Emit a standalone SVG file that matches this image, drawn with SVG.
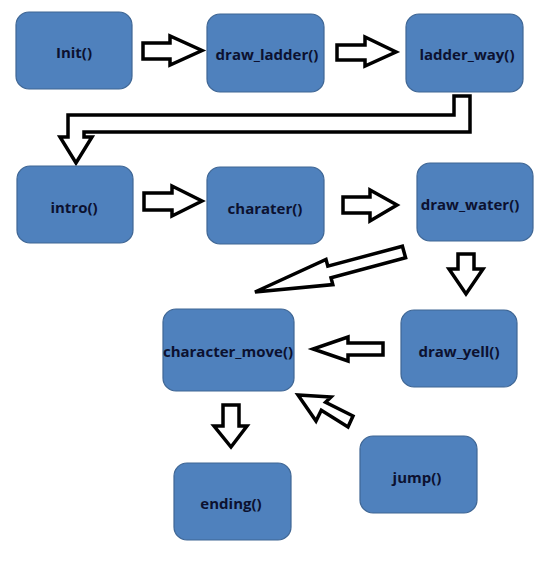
<svg xmlns="http://www.w3.org/2000/svg" width="552" height="579" viewBox="0 0 552 579">
<style>
.box{fill:#4f81bd;stroke:#3f6694;stroke-width:1.2}
.lbl{font-family:"Open Sans","Noto Sans","DejaVu Sans",sans-serif;font-weight:bold;font-size:15px;fill:#0c1130;text-anchor:middle;dominant-baseline:central}
.arr{fill:#fff;stroke:#000;stroke-width:3.5;stroke-linejoin:miter}
</style>
<rect width="552" height="579" fill="#fff"/>
<g id="connectors">
<polygon class="arr" points="143,43 170,43 170,36 202,50.5 170,65 170,59 143,59"/>
<polygon class="arr" points="337,45 365,45 365,37 396,52 365,66 365,60 337,60"/>
<polygon class="arr" points="454,96 470,96 470,132 84,132 84,137 92,137 76,163 60,137 68,137 68,115 454,115"/>
<polygon class="arr" points="144,193 172,193 172,186 202,201 172,216 172,210 144,210"/>
<polygon class="arr" points="343,197 370,197 370,190 397,205 370,221 370,213 343,213"/>
<polygon class="arr" points="402.4,246.2 327.8,266.2 326,259.4 255,292 332.8,284.6 331,277.8 405.6,257.8"/>
<polygon class="arr" points="458,254 474,254 474,269 483,269 466,294 449,269 458,269"/>
<polygon class="arr" points="383,343 348,343 348,337 313,349 348,361 348,355 383,355"/>
<polygon class="arr" points="223,405 239,405 239,426 247,426 231,447 214,426 223,426"/>
<polygon class="arr" points="353,416 325.6,402.2 331,397 298,395 316,421 321.3,410.2 348,427"/>
</g>
<g id="init"><rect class="box" x="16" y="12" width="116" height="77" rx="13"/><text class="lbl" x="74" y="52">Init()</text></g>
<g id="draw_ladder"><rect class="box" x="207" y="14" width="117" height="78" rx="13"/><text class="lbl" x="267" y="54">draw_ladder()</text></g>
<g id="ladder_way"><rect class="box" x="406" y="14" width="117" height="78" rx="13"/><text class="lbl" x="467" y="54">ladder_way()</text></g>
<g id="intro"><rect class="box" x="17" y="166" width="116" height="77" rx="13"/><text class="lbl" x="74" y="207">intro()</text></g>
<g id="charater"><rect class="box" x="207" y="167" width="117" height="77" rx="13"/><text class="lbl" x="265" y="208">charater()</text></g>
<g id="draw_water"><rect class="box" x="417" y="163" width="116" height="78" rx="13"/><text class="lbl" x="470" y="204">draw_water()</text></g>
<g id="character_move"><rect class="box" x="163" y="309" width="131" height="82" rx="13"/><text class="lbl" x="228" y="351">character_move()</text></g>
<g id="draw_yell"><rect class="box" x="401" y="310" width="116" height="77" rx="13"/><text class="lbl" x="459" y="351">draw_yell()</text></g>
<g id="ending"><rect class="box" x="174" y="463" width="117" height="77" rx="13"/><text class="lbl" x="231" y="503">ending()</text></g>
<g id="jump"><rect class="box" x="360" y="436" width="117" height="77" rx="13"/><text class="lbl" x="417" y="477">jump()</text></g>
</svg>
